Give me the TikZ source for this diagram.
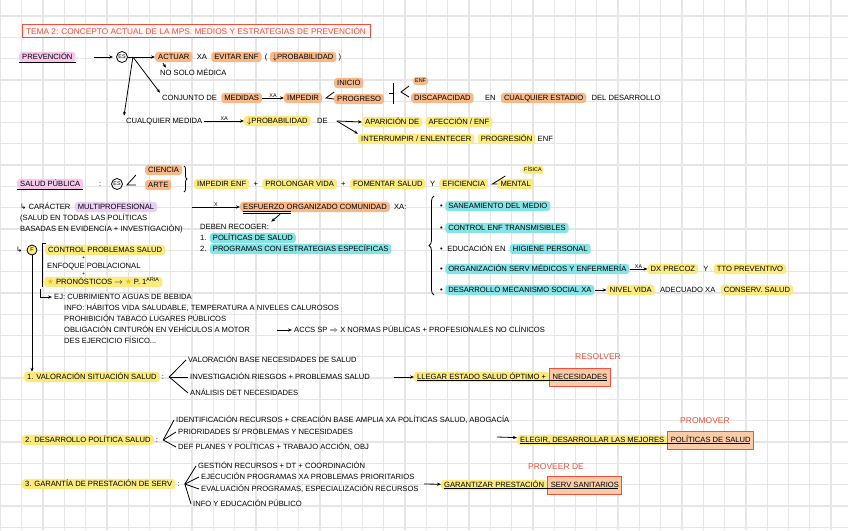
\documentclass[tikz,border=0pt]{standalone}
\usepackage{fontspec}
\setmainfont{Liberation Sans}
\newfontfamily\symf{DejaVu Sans}
\usetikzlibrary{positioning,calc,arrows.meta,decorations.pathreplacing}
\definecolor{hlOr}{HTML}{F7B98A}
\definecolor{hlYe}{HTML}{FBEA7E}
\definecolor{hlCy}{HTML}{86E3E6}
\definecolor{hlPk}{HTML}{F6C8EC}
\definecolor{hlLv}{HTML}{EBCDF5}
\definecolor{redc}{HTML}{F0503C}
\definecolor{gridc}{HTML}{E6E6E6}
\definecolor{starc}{HTML}{F5B800}
\newcommand{\hw}{\fontsize{7.6}{8}\selectfont}
\newcommand{\hws}{\fontsize{5.4}{6}\selectfont}
\newcommand{\hwr}{\fontsize{8.5}{9}\selectfont}
\newcommand{\hwt}{\fontsize{8.3}{9}\selectfont}
\begin{document}
\begin{tikzpicture}[x=1pt,y=-1pt,
  tx/.style={font=\hw, inner xsep=2pt, inner ysep=1.5pt, text height=5.7pt, text depth=1.4pt, anchor=west},
  txs/.style={tx, font=\hws, text height=4pt, text depth=1pt},
  hl/.style={tx, rounded corners=3pt, inner xsep=3pt},
  hor/.style={hl, fill=hlOr},
  hors/.style={txs, fill=hlOr, rounded corners=3pt},
  hye/.style={hl, fill=hlYe},
  hyes/.style={txs, fill=hlYe, rounded corners=3pt},
  hcy/.style={hl, fill=hlCy},
  hpk/.style={hl, fill=hlPk},
  hlv/.style={hl, fill=hlLv},
  rbox/.style={tx, draw=redc, line width=0.9pt, fill=hlOr!75, minimum height=18pt, inner xsep=3pt},
  redt/.style={font=\hwr, text=redc, inner sep=1pt},
  lnk/.style={line width=0.8pt, black},
  arr/.style={lnk, -{Stealth[length=4pt,width=3.2pt]}},
  esc/.style={circle, draw, line width=0.8pt, font=\hws, inner sep=0.6pt, minimum size=11pt},
  lab/.style={font=\hws, inner sep=0.5pt},
]
\useasboundingbox (0,0) rectangle (848,530);
\fill[white] (0,0) rectangle (848,530);
\foreach \i in {0,...,39} \draw[gridc, line width=1.3pt] ({0.4+21.3*\i},0) -- ({0.4+21.3*\i},530);
\foreach \j in {0,...,24} \draw[gridc, line width=1.3pt] (0,{16+21.3*\j}) -- (848,{16+21.3*\j});

% title
\node[draw=redc, line width=0.9pt, fill=redc!5, text=redc, font=\hwt, minimum width=348pt, minimum height=13pt, inner sep=1pt] (title) at (196,31) {TEMA 2: CONCEPTO ACTUAL DE LA MPS. MEDIOS Y ESTRATEGIAS DE PREVENCIÓN};

% prevencion
\node[hpk] (prev) at (19,57) {PREVENCIÓN};
\draw[lnk] (prev.south west) -- (prev.south east);
\node[esc] (es1) at (122,57) {ES};
\draw[arr, shorten <=18pt, shorten >=3pt] (prev) -- (es1);
\coordinate (esj) at ($(es1.east)+(5,0)$);
\node[hor] (actuar) at (155,57) {ACTUAR};
\draw[lnk] (es1) -- (esj);
\draw[arr] (esj) -- (actuar);
\node[tx, right=2pt of actuar] (xa1) {XA};
\node[hor, right=2pt of xa1] (evitar) {EVITAR ENF};
\node[tx, right=1pt of evitar] (par1) {(};
\node[hor, right=0pt of par1] (prob1) {$\downarrow$PROBABILIDAD};
\node[tx, right=0pt of prob1] (par2) {)};
\node[tx] (nosolo) at (158,73) {NO SOLO MÉDICA};
\draw[arr] ($(actuar.south west)+(8,1)$) -- ($(nosolo.north west)+(8,0)$);

\node[tx] (conj) at (160,98) {CONJUNTO DE};
\node[hor, right=2pt of conj] (medidas) {MEDIDAS};
\node[hor] (impedir) at (284,98) {IMPEDIR};
\draw[arr] (medidas) -- node[lab, above=0pt]{XA} (impedir);
\draw[lnk] ($(impedir.east)+(12,-6)$) -- ($(impedir.east)+(4,0)$) -- ($(impedir.east)+(12,1)$);
\node[hor] (inicio) at (334,83) {INICIO};
\node[hor] (progreso) at (334,99) {PROGRESO};
\draw[lnk] (393,83) -- (393,104);
\draw[lnk] (393,93) -- (389,93);
\draw[lnk] (409,86) -- (401,92) -- (409,97);
\node[hors] (enf1) at (413,81) {ENF};
\node[hor] (discap) at (411,98) {DISCAPACIDAD};
\node[tx, right=9pt of discap] (en) {EN};
\node[hor, right=3pt of en] (cualq) {CUALQUIER ESTADIO};
\node[tx, right=3pt of cualq] (deldes) {DEL DESARROLLO};
\draw[arr] (esj) -- (conj.north west);

\node[tx] (cualm) at (124,121) {CUALQUIER MEDIDA};
\draw[arr] (esj) -- (cualm.north west);
\node[hye] (prob2) at (244,121) {$\downarrow$PROBABILIDAD};
\draw[arr] (cualm) -- node[lab, above=0pt]{XA} (prob2);
\node[tx, right=4pt of prob2] (de1) {DE};
\node[hye] (apar) at (362,122) {APARICIÓN DE};
\node[hye, right=3pt of apar] (afec) {AFECCIÓN / ENF};
\node[hye] (interr) at (358,139) {INTERRUMPIR / ENLENTECER};
\node[hye, right=3pt of interr] (progr) {PROGRESIÓN};
\node[tx, right=0pt of progr] (enf2) {ENF};
\coordinate (dej) at ($(de1.east)+(7,0)$);
\draw[arr] (dej) -- (apar.west);
\draw[arr] (dej) -- (interr.north west);

% salud publica
\node[hpk] (sp) at (17,184) {SALUD PÚBLICA};
\draw[lnk] (sp.south west) -- (sp.south east);
\node[tx] (col1) at (97,184) {:};
\node[esc] (es2) at (117,184) {ES};
\draw[lnk] ($(es2.east)+(13,-9)$) -- ($(es2.east)+(4,1)$) -- ($(es2.east)+(13,1)$);
\node[hor] (ciencia) at (145,170) {CIENCIA};
\node[hor] (arte) at (145,185) {ARTE};
\draw[lnk, decorate, decoration={brace, amplitude=3pt}] (184,166) -- (184,192);
\node[hye] (impe) at (194,184) {IMPEDIR ENF};
\node[tx, right=2pt of impe] (pl1) {+};
\node[hye, right=2pt of pl1] (prol) {PROLONGAR VIDA};
\node[tx, right=2pt of prol] (pl2) {+};
\node[hye, right=2pt of pl2] (fom) {FOMENTAR SALUD};
\node[tx, right=2pt of fom] (y1) {Y};
\node[hye, right=2pt of y1] (efic) {EFICIENCIA};
\node[hye, right=9pt of efic] (mental) {MENTAL};
\draw[lnk] ($(mental.west)+(8,-8)$) -- ($(mental.west)+(-5,0)$) -- (mental.west);
\node[hyes] (fisica) at (522,170) {FÍSICA};

\node[tx] (carac) at (18,207) {{\symf ↳} CARÁCTER};
\node[hlv, right=2pt of carac] (multi) {MULTIPROFESIONAL};
\node[tx] (pa1) at (18,218) {(SALUD EN TODAS LAS POLÍTICAS};
\node[tx] (pa2) at (18,229) {BASADAS EN EVIDENCIA + INVESTIGACIÓN)};

\coordinate (xs) at (192,207);
\node[hor] (esf) at (240,207) {ESFUERZO ORGANIZADO COMUNIDAD};
\draw[arr] (xs) -- node[lab, above=0pt]{X} (esf);
\draw[lnk, line width=0.6pt] ($(esf.south west)+(3,-1.2)$) -- ++(48,0);
\draw[lnk, line width=0.6pt] ($(esf.south west)+(3,0.6)$) -- ++(48,0);
\node[tx, right=2pt of esf] (xa3) {XA:};
\node[tx] (debe) at (198,227) {DEBEN RECOGER:};
\draw[arr] ($(esf.south west)+(40,2)$) -- (debe.north east);
\node[tx] (n1) at (198,238) {1.};
\node[hcy, right=1pt of n1] (polsal) {POLÍTICAS DE SALUD};
\node[tx] (n2) at (198,249) {2.};
\node[hcy, right=1pt of n2] (progesp) {PROGRAMAS CON ESTRATEGIAS ESPECÍFICAS};

\draw[lnk, decorate, decoration={brace, amplitude=5pt}] (434,295) -- (434,196);
\node[tx] (bu1) at (438,206) {•};
\node[hcy, right=0pt of bu1] (san) {SANEAMIENTO DEL MEDIO};
\node[tx] (bu2) at (438,228) {•};
\node[hcy, right=0pt of bu2] (ctr) {CONTROL ENF TRANSMISIBLES};
\node[tx] (bu3) at (438,249) {•};
\node[tx, right=0pt of bu3] (educ) {EDUCACIÓN EN};
\node[hcy, right=2pt of educ] (hig) {HIGIENE PERSONAL};
\node[tx] (bu4) at (438,269) {•};
\node[hcy, right=0pt of bu4] (org) {ORGANIZACIÓN SERV MÉDICOS Y ENFERMERÍA};
\node[hye, right=18pt of org] (dx) {DX PRECOZ};
\draw[arr] (org) -- node[lab, above=0pt]{XA} (dx);
\node[tx, right=3pt of dx] (y2) {Y};
\node[hye, right=3pt of y2] (tto) {TTO PREVENTIVO};
\node[tx] (bu5) at (438,290) {•};
\node[hcy, right=0pt of bu5] (desm) {DESARROLLO MECANISMO SOCIAL XA};
\node[hye, right=12pt of desm] (niv) {NIVEL VIDA};
\draw[arr] (desm) -- (niv);
\node[tx, right=3pt of niv] (adec) {ADECUADO XA};
\node[hye, right=3pt of adec] (cons) {CONSERV. SALUD};

% funciones
\node[tx] (fh) at (14,250) {{\symf ↳}};
\node[circle, draw, line width=0.8pt, fill=hlYe, inner sep=0.5pt, font=\hws, minimum size=10pt] (fc) at (32,250) {F};
\draw[lnk] (46,243) -- (42,243) -- (42,287);
\node[hye] (cps) at (45,250) {CONTROL PROBLEMAS SALUD};
\node[txs] (pl3) at (80,258) {+};
\node[tx] (enfp) at (45,266) {ENFOQUE POBLACIONAL};
\node[txs] (pl4) at (80,274) {+};
\node[hye] (pron) at (44,282) {\textcolor{starc}{\symf ★} PRONÓSTICOS $\rightarrow$ \textcolor{starc}{\symf ★} P. 1\textsuperscript{ARIA}};

\coordinate (ejs) at (40,289);
\node[tx] (ej1) at (52,297) {EJ: CUBRIMIENTO AGUAS DE BEBIDA};
\draw[arr] (ejs) |- (ej1);
\node[tx] (ej2) at (62,308) {INFO: HÁBITOS VIDA SALUDABLE, TEMPERATURA A NIVELES CALUROSOS};
\node[tx] (ej3) at (62,319) {PROHIBICIÓN TABACO LUGARES PÚBLICOS};
\node[tx] (ej4) at (62,330) {OBLIGACIÓN CINTURÓN EN VEHÍCULOS A MOTOR};
\node[tx] (ej5) at (62,341) {DES EJERCICIO FÍSICO...};
\node[tx] (accs) at (292,330) {ACCS SP $\Rightarrow$ X NORMAS PÚBLICAS + PROFESIONALES NO CLÍNICOS};
\coordinate (acs) at (277,330);
\draw[arr] (acs) -- (accs);

% 1
\node[hye] (v1) at (24,377) {1. VALORACIÓN SITUACIÓN SALUD};
\draw[arr] (fc.south) -- (fc.south |- v1.north);
\node[tx, right=0pt of v1] (vc) {:};
\coordinate (vp) at ($(vc.east)+(3,0)$);
\node[tx] (v1a) at (186,360) {VALORACIÓN BASE NECESIDADES DE SALUD};
\node[tx] (v1b) at (188,377) {INVESTIGACIÓN RIESGOS + PROBLEMAS SALUD};
\node[tx] (v1c) at (188,393) {ANÁLISIS DET NECESIDADES};
\draw[lnk] (v1a.west) -- (vp) -- (v1c.west);
\draw[lnk] (vp) -- (v1b.west);
\coordinate (r1s) at (394,377);
\node[hye] (r1a) at (414,377) {LLEGAR ESTADO SALUD ÓPTIMO +};
\node[rbox, right=0pt of r1a] (r1b) {NECESIDADES};
\draw[arr] (r1s) -- (r1a);
\draw[lnk, line width=0.6pt] ($(r1a.south west)+(3,-2)$) -- ($(r1a.south west -| r1b.east)+(-4,-2)$);
\node[redt] (rl1) at (598,357) {RESOLVER};

% 2
\node[hye] (d1) at (22,440) {2. DESARROLLO POLÍTICA SALUD};
\node[tx, right=0pt of d1] (dc) {:};
\coordinate (dp) at ($(dc.east)+(3,0)$);
\node[tx] (d1a) at (174,420) {IDENTIFICACIÓN RECURSOS + CREACIÓN BASE AMPLIA XA POLÍTICAS SALUD, ABOGACÍA};
\node[tx] (d1b) at (176,432) {PRIORIDADES S/ PROBLEMAS Y NECESIDADES};
\node[tx] (d1c) at (176,447) {DEF PLANES Y POLÍTICAS + TRABAJO ACCIÓN, OBJ};
\draw[lnk] (d1a.west) -- (dp) -- (d1c.west);
\draw[lnk] (dp) -- (d1b.west);
\coordinate (r2s) at (497,437);
\node[hye] (r2a) at (517,440) {ELEGIR, DESARROLLAR LAS MEJORES};
\node[rbox, right=0pt of r2a] (r2b) {POLÍTICAS DE SALUD};
\draw[arr] (r2s) -- (r2a);
\draw[lnk, line width=0.6pt] ($(r2a.south west)+(3,-2)$) -- ($(r2a.south west -| r2b.east)+(-4,-2)$);
\node[redt] (rl2) at (705,421) {PROMOVER};

% 3
\node[hye] (g1) at (22,484) {3. GARANTÍA DE PRESTACIÓN DE SERV};
\node[tx, right=0pt of g1] (gc) {:};
\coordinate (gp) at ($(gc.east)+(3,0)$);
\node[tx] (g1a) at (196,466) {GESTIÓN RECURSOS + DT + COORDINACIÓN};
\node[tx] (g1b) at (199,477) {EJECUCIÓN PROGRAMAS XA PROBLEMAS PRIORITARIOS};
\node[tx] (g1c) at (199,489) {EVALUACIÓN PROGRAMAS, ESPECIALIZACIÓN RECURSOS};
\node[tx] (g1d) at (191,504) {INFO Y EDUCACIÓN PÚBLICO};
\draw[lnk] (g1a.west) -- (gp) -- (g1d.west);
\draw[lnk] (gp) -- (g1b.west);
\draw[lnk] (gp) -- (g1c.west);
\coordinate (r3s) at (424,484);
\node[hye] (r3a) at (441,485) {GARANTIZAR PRESTACIÓN};
\node[rbox, right=0pt of r3a] (r3b) {SERV SANITARIOS};
\draw[arr] (r3s) -- (r3a);
\draw[lnk, line width=0.6pt] ($(r3a.south west)+(3,-2)$) -- ($(r3a.south west -| r3b.east)+(-4,-2)$);
\node[redt] (rl3) at (556,467) {PROVEER DE};
\end{tikzpicture}
\end{document}
